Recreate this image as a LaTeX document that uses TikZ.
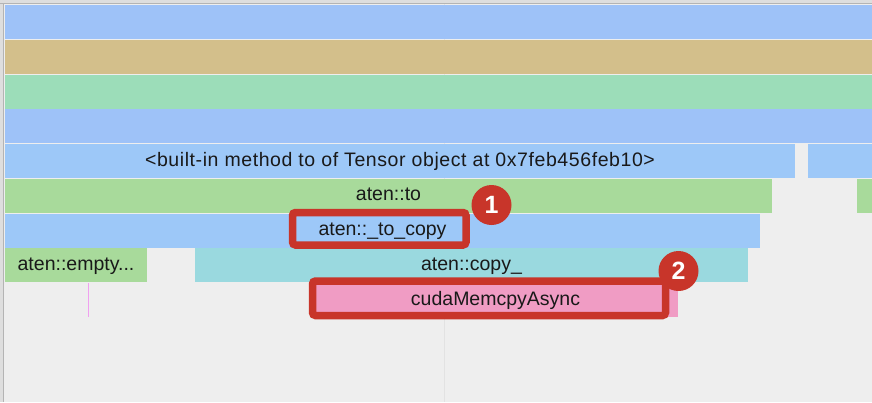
\documentclass[tikz,border=0pt]{standalone}
\usepackage{fontspec}
\setmainfont{Liberation Sans}
\definecolor{bgc}{HTML}{EEEEEE}
\definecolor{blueA}{HTML}{9EC2F8}
\definecolor{tanc}{HTML}{D3BF8B}
\definecolor{mint}{HTML}{9CDDB9}
\definecolor{blueB}{HTML}{9DC8F8}
\definecolor{greenc}{HTML}{A8DA9B}
\definecolor{tealc}{HTML}{9AD9DF}
\definecolor{pinkc}{HTML}{F09CC4}
\definecolor{redc}{HTML}{C8352A}
\definecolor{magc}{HTML}{F0A0F0}
\definecolor{gridc}{HTML}{E2E2E2}
\definecolor{edgec}{HTML}{B4B4B4}
\definecolor{edgefill}{HTML}{DEDEDE}
\begin{document}
\begin{tikzpicture}[x=1pt,y=-1pt,
  blk/.style={anchor=north west, inner sep=0pt, outer sep=0pt, minimum height=34pt,
    text height=14pt, text depth=4pt, font=\fontsize{19.5}{20}\selectfont, text=black!90},
  hl/.style={draw=redc, line width=7.5pt, rounded corners=3pt},
  badge/.style={circle, fill=redc, minimum size=40pt, inner sep=0pt, text=white,
    font=\fontsize{25}{26}\selectfont\bfseries}]
\useasboundingbox (0,0) rectangle (872,402);
\fill[bgc] (0,0) rectangle (872,402);
% borders
\fill[edgefill] (0,0) rectangle (872,3.5);
\fill[edgefill] (0,0) rectangle (3.5,402);
\draw[edgec, line width=1pt] (0,3.8) -- (872,3.8);
\draw[edgec, line width=1pt] (3.8,3.8) -- (3.8,402);
\draw[gridc, line width=1pt] (444,4) -- (444,402);
% rows
\node[blk, fill=blueA, minimum width=867pt] (r1) at (5,5) {};
\node[blk, fill=tanc, minimum width=867pt] (r2) at (5,39.75) {};
\node[blk, fill=mint, minimum width=867pt] (r3) at (5,74.5) {};
\node[blk, fill=blueA, minimum width=867pt] (r4) at (5,109.25) {};
\node[blk, fill=blueB, minimum width=790pt] (r5a) at (5,144) {\addfontfeature{LetterSpace=3.0}<built-in method to of Tensor object at 0x7feb456feb10>};
\node[blk, fill=blueB, minimum width=64pt] (r5b) at (808,144) {};
\node[blk, fill=greenc, minimum width=767pt] (r6a) at (5,178.75) {aten::to};
\node[blk, fill=greenc, minimum width=15pt] (r6b) at (857,178.75) {};
\node[blk, fill=blueB, minimum width=755pt] (r7) at (5,213.5) {aten::\_to\_copy};
\node[blk, fill=greenc, minimum width=142pt] (r8a) at (5,248.25) {aten::empty...};
\node[blk, fill=tealc, minimum width=553pt] (r8b) at (195,248.25) {aten::copy\_};
\node[blk, fill=pinkc, minimum width=365pt] (r9) at (313,283) {cudaMemcpyAsync};
\draw[magc, line width=1.2pt] (88.5,283) -- (88.5,316.5);
% highlights
\draw[hl] (292.5,212.5) rectangle (466,245);
\draw[hl] (312.5,281) rectangle (665.5,315.5);
\node[badge] (b1) at (491.5,205) {1};
\node[badge] (b2) at (678.5,271) {2};
\end{tikzpicture}
\end{document}
